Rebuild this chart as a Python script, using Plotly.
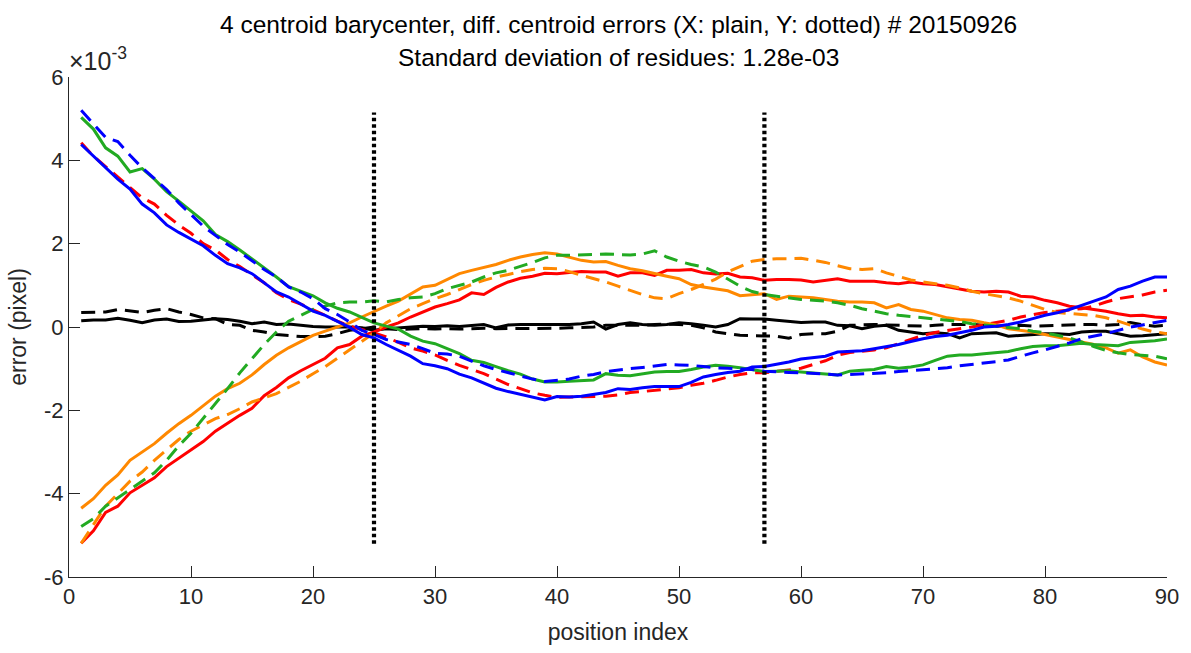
import plotly.graph_objects as go

# position index
x = list(range(1, 91))

# values in units of 1e-3 pixel
black_x = [0.15, 0.17, 0.17, 0.21, 0.16, 0.10, 0.17, 0.19, 0.13, 0.14,
           0.17, 0.20, 0.18, 0.14, 0.08, 0.12, 0.06, 0.07, 0.04, 0.01,
           0.00, 0.00, 0.00, -0.02, -0.08, -0.04, -0.02, 0.00, 0.02, 0.01,
           0.03, 0.01, 0.04, 0.06, -0.02, 0.05, 0.06, 0.06, 0.05, 0.06,
           0.06, 0.08, 0.12, -0.05, 0.06, 0.10, 0.06, 0.04, 0.06, 0.10,
           0.08, 0.04, 0.00, 0.06, 0.20, 0.19, 0.19, 0.16, 0.14, 0.11,
           0.12, 0.12, 0.04, 0.03, -0.04, 0.02, 0.04, -0.08, -0.12, -0.16,
           -0.14, -0.16, -0.26, -0.16, -0.15, -0.14, -0.22, -0.20, -0.18, -0.16,
           -0.16, -0.18, -0.12, -0.10, -0.10, -0.16, -0.22, -0.21, -0.18, -0.16]
black_y = [0.35, 0.36, 0.36, 0.42, 0.38, 0.35, 0.40, 0.44, 0.36, 0.30,
           0.22, 0.20, 0.06, 0.04, -0.08, -0.12, -0.18, -0.20, -0.23, -0.23,
           -0.22, -0.16, -0.08, -0.04, 0.00, -0.04, -0.06, -0.05, -0.04, -0.05,
           -0.04, -0.05, -0.04, -0.03, -0.04, -0.04, -0.03, -0.04, -0.03, -0.03,
           -0.02, -0.01, 0.00, 0.04, 0.04, 0.05, 0.04, 0.06, 0.07, 0.06,
           0.04, -0.02, -0.12, -0.16, -0.20, -0.21, -0.22, -0.22, -0.27, -0.18,
           -0.16, -0.16, -0.10, 0.04, 0.05, 0.06, 0.05, 0.04, 0.04, 0.02,
           0.04, 0.06, 0.06, 0.06, 0.04, 0.02, 0.03, 0.04, 0.02, 0.03,
           0.05, 0.06, 0.06, 0.06, 0.04, 0.06, 0.11, 0.05, 0.02, 0.04]
red_x = [-5.19, -4.89, -4.45, -4.30, -3.98, -3.80, -3.62, -3.35, -3.15, -2.95,
         -2.75, -2.50, -2.30, -2.12, -1.95, -1.65, -1.45, -1.22, -1.05, -0.90,
         -0.75, -0.50, -0.42, -0.22, -0.12, 0.00, 0.10, 0.24, 0.36, 0.48,
         0.56, 0.65, 0.82, 0.78, 0.95, 1.08, 1.17, 1.22, 1.29, 1.28,
         1.31, 1.33, 1.32, 1.32, 1.22, 1.30, 1.30, 1.24, 1.36, 1.36,
         1.38, 1.30, 1.27, 1.29, 1.20, 1.18, 1.12, 1.14, 1.14, 1.13,
         1.08, 1.12, 1.16, 1.10, 1.10, 1.10, 1.06, 1.04, 1.08, 1.04,
         1.02, 0.97, 0.92, 0.86, 0.84, 0.86, 0.84, 0.74, 0.72, 0.64,
         0.58, 0.50, 0.46, 0.42, 0.38, 0.32, 0.27, 0.28, 0.24, 0.22]
red_y = [4.42, 4.10, 3.85, 3.60, 3.33, 3.10, 2.95, 2.68, 2.45, 2.25,
         2.00, 1.85, 1.62, 1.45, 1.25, 1.06, 0.82, 0.66, 0.55, 0.42,
         0.28, 0.14, 0.02, -0.06, -0.14, -0.24, -0.38, -0.50, -0.58, -0.67,
         -0.80, -0.92, -1.02, -1.12, -1.25, -1.38, -1.48, -1.58, -1.64, -1.69,
         -1.68, -1.67, -1.67, -1.66, -1.63, -1.57, -1.55, -1.52, -1.49, -1.46,
         -1.40, -1.35, -1.28, -1.20, -1.14, -1.10, -1.10, -1.07, -1.03, -0.99,
         -0.90, -0.81, -0.68, -0.61, -0.58, -0.55, -0.50, -0.40, -0.31, -0.20,
         -0.13, -0.08, -0.04, 0.00, 0.05, 0.10, 0.16, 0.24, 0.30, 0.35,
         0.38, 0.41, 0.44, 0.50, 0.60, 0.68, 0.72, 0.77, 0.84, 0.88]
orange_x = [-4.35, -4.12, -3.80, -3.55, -3.20, -3.00, -2.80, -2.55, -2.32, -2.12,
            -1.88, -1.66, -1.48, -1.35, -1.15, -0.90, -0.68, -0.50, -0.35, -0.20,
            -0.10, 0.00, 0.10, 0.24, 0.38, 0.50, 0.62, 0.78, 0.96, 1.00,
            1.14, 1.28, 1.36, 1.43, 1.50, 1.60, 1.68, 1.74, 1.78, 1.75,
            1.68, 1.60, 1.56, 1.57, 1.48, 1.40, 1.35, 1.28, 1.22, 1.16,
            1.02, 0.96, 0.92, 0.87, 0.75, 0.77, 0.80, 0.66, 0.74, 0.72,
            0.70, 0.66, 0.62, 0.60, 0.60, 0.58, 0.46, 0.54, 0.42, 0.38,
            0.30, 0.22, 0.18, 0.16, 0.10, 0.05, -0.04, -0.08, -0.12, -0.18,
            -0.24, -0.30, -0.36, -0.42, -0.50, -0.63, -0.55, -0.72, -0.84, -0.91]
orange_y = [-5.19, -4.75, -4.30, -4.00, -3.70, -3.48, -3.20, -2.95, -2.70, -2.50,
            -2.35, -2.20, -2.10, -1.96, -1.80, -1.70, -1.60, -1.45, -1.30, -1.12,
            -0.95, -0.75, -0.55, -0.35, -0.14, 0.10, 0.28, 0.44, 0.56, 0.68,
            0.78, 0.90, 1.02, 1.12, 1.20, 1.26, 1.33, 1.38, 1.41, 1.40,
            1.33, 1.24, 1.16, 1.08, 0.98, 0.88, 0.78, 0.70, 0.68, 0.80,
            0.90, 1.02, 1.15, 1.32, 1.46, 1.58, 1.62, 1.64, 1.64, 1.65,
            1.60, 1.55, 1.47, 1.40, 1.38, 1.40, 1.30, 1.22, 1.13, 1.08,
            1.04, 1.00, 0.94, 0.86, 0.80, 0.75, 0.70, 0.62, 0.52, 0.42,
            0.35, 0.32, 0.30, 0.28, 0.22, 0.14, 0.05, -0.05, -0.12, -0.16]
green_x = [5.03, 4.75, 4.30, 4.10, 3.72, 3.80, 3.55, 3.25, 3.02, 2.78,
           2.55, 2.22, 2.05, 1.85, 1.64, 1.42, 1.20, 0.97, 0.86, 0.75,
           0.58, 0.45, 0.36, 0.22, 0.10, 0.02, -0.05, -0.22, -0.34, -0.40,
           -0.52, -0.64, -0.80, -0.85, -0.95, -1.05, -1.13, -1.25, -1.32, -1.32,
           -1.30, -1.28, -1.27, -1.12, -1.16, -1.17, -1.12, -1.08, -1.07, -1.07,
           -1.02, -0.96, -0.92, -0.94, -0.98, -1.02, -1.07, -1.06, -1.05, -1.08,
           -1.11, -1.13, -1.15, -1.06, -1.04, -1.02, -0.95, -0.99, -0.96, -0.91,
           -0.80, -0.70, -0.67, -0.67, -0.64, -0.62, -0.59, -0.52, -0.47, -0.45,
           -0.45, -0.42, -0.39, -0.42, -0.44, -0.45, -0.37, -0.35, -0.33, -0.29]
green_y = [-4.79, -4.60, -4.30, -4.10, -3.92, -3.70, -3.50, -3.20, -2.85, -2.55,
           -2.20, -1.85, -1.48, -1.10, -0.75, -0.42, -0.12, 0.14, 0.28, 0.42,
           0.50, 0.58, 0.60, 0.60, 0.63, 0.60, 0.66, 0.70, 0.72, 0.80,
           0.92, 1.00, 1.08, 1.20, 1.30, 1.36, 1.45, 1.55, 1.66, 1.72,
           1.72, 1.73, 1.73, 1.75, 1.74, 1.73, 1.75, 1.83, 1.68, 1.58,
           1.50, 1.44, 1.32, 1.16, 0.98, 0.85, 0.78, 0.74, 0.70, 0.66,
           0.64, 0.62, 0.58, 0.52, 0.44, 0.38, 0.32, 0.28, 0.25, 0.21,
           0.18, 0.16, 0.13, 0.08, 0.05, 0.02, 0.00, -0.04, -0.10, -0.14,
           -0.20, -0.26, -0.36, -0.47, -0.56, -0.62, -0.66, -0.68, -0.70, -0.76]
blue_x = [4.38, 4.10, 3.82, 3.55, 3.31, 2.95, 2.74, 2.45, 2.27, 2.10,
          1.95, 1.72, 1.52, 1.42, 1.28, 1.06, 0.84, 0.72, 0.56, 0.38,
          0.28, 0.14, -0.01, -0.18, -0.26, -0.42, -0.56, -0.70, -0.88, -0.93,
          -1.00, -1.13, -1.22, -1.34, -1.47, -1.55, -1.62, -1.68, -1.75, -1.67,
          -1.68, -1.66, -1.62, -1.57, -1.48, -1.50, -1.46, -1.43, -1.43, -1.43,
          -1.33, -1.20, -1.14, -1.09, -1.06, -0.96, -0.95, -0.90, -0.84, -0.77,
          -0.73, -0.70, -0.60, -0.58, -0.57, -0.52, -0.47, -0.42, -0.35, -0.28,
          -0.23, -0.20, -0.14, -0.08, 0.00, 0.02, 0.06, 0.12, 0.20, 0.28,
          0.34, 0.42, 0.52, 0.62, 0.72, 0.90, 0.98, 1.10, 1.20, 1.20]
blue_y = [5.20, 4.88, 4.55, 4.45, 4.12, 3.82, 3.55, 3.30, 2.98, 2.70,
          2.42, 2.20, 1.98, 1.80, 1.58, 1.38, 1.20, 0.96, 0.84, 0.68,
          0.44, 0.30, 0.12, -0.08, -0.18, -0.30, -0.36, -0.42, -0.52, -0.63,
          -0.65, -0.70, -0.82, -0.93, -1.02, -1.10, -1.18, -1.25, -1.31, -1.28,
          -1.25, -1.18, -1.14, -1.07, -1.03, -1.00, -0.97, -0.94, -0.90, -0.91,
          -0.92, -0.95, -0.98, -0.99, -1.00, -1.02, -1.06, -1.08, -1.09, -1.10,
          -1.11, -1.13, -1.15, -1.14, -1.13, -1.12, -1.10, -1.07, -1.05, -1.03,
          -1.01, -0.98, -0.93, -0.90, -0.87, -0.83, -0.79, -0.70, -0.62, -0.55,
          -0.47, -0.38, -0.28, -0.22, -0.16, -0.08, 0.00, 0.05, 0.10, 0.16]

# vertical dotted separators (x position, y extent)
sep_x = [25, 57]
sep_y = [-5.2, 5.15]

y_ticks = [-6, -4, -2, 0, 2, 4, 6]
y_ticktext = ["-6", "-4", "-2", "0", "2", "4", "6"]
x_ticks = [0, 10, 20, 30, 40, 50, 60, 70, 80, 90]

DASH = "14px,8px"
series = [
    (black_x, "#000000", "solid"), (black_y, "#000000", DASH),
    (red_x, "#FF0000", "solid"), (red_y, "#FF0000", DASH),
    (orange_x, "#FF8800", "solid"), (orange_y, "#FF8800", DASH),
    (green_x, "#22AA22", "solid"), (green_y, "#22AA22", DASH),
    (blue_x, "#0000FF", "solid"), (blue_y, "#0000FF", DASH),
]

fig = go.Figure()
for vals, col, dash in series:
    fig.add_trace(go.Scatter(x=x, y=vals, mode="lines",
                             line=dict(color=col, width=3, dash=dash),
                             showlegend=False, hoverinfo="skip"))
for sx in sep_x:
    fig.add_trace(go.Scatter(x=[sx, sx], y=sep_y, mode="lines",
                             line=dict(color="#000000", width=4.2, dash="3.5px,3px"),
                             showlegend=False, hoverinfo="skip"))

axcol = "#262626"
font = "Liberation Sans, Arial, Helvetica, sans-serif"
fig.update_layout(
    width=1191, height=653,
    margin=dict(l=69, r=19, t=77, b=73),
    paper_bgcolor="white", plot_bgcolor="white",
    font=dict(family=font, size=22, color=axcol),
    xaxis=dict(range=[0, 90], tickvals=x_ticks, ticks="inside", ticklen=11,
               tickcolor=axcol, tickwidth=1, showline=True, linecolor=axcol,
               linewidth=1, showgrid=False, zeroline=False, mirror=False,
               tickfont=dict(size=22, color=axcol),
               title=dict(text="position index", font=dict(size=23, color=axcol),
                          standoff=15)),
    yaxis=dict(range=[-6, 6], tickvals=y_ticks, ticktext=y_ticktext,
               ticks="inside", ticklen=11,
               tickcolor=axcol, tickwidth=1, showline=True, linecolor=axcol,
               linewidth=1, showgrid=False, zeroline=False, mirror=False,
               tickfont=dict(size=22, color=axcol),
               title=dict(text="error (pixel)", font=dict(size=23, color=axcol),
                          standoff=10)),
    annotations=[
        dict(text="4 centroid barycenter, diff. centroid errors (X: plain, Y: dotted) # 20150926",
             xref="paper", yref="paper", x=0.5, y=1, xanchor="center", yanchor="middle",
             yshift=53, showarrow=False, font=dict(size=24.5, color="#000000")),
        dict(text="Standard deviation of residues: 1.28e-03",
             xref="paper", yref="paper", x=0.5, y=1, xanchor="center", yanchor="middle",
             yshift=20, showarrow=False, font=dict(size=24.5, color="#000000")),
        dict(text="\u00d710<sup>-3</sup>",
             xref="paper", yref="paper", x=0, y=1, xanchor="left", yanchor="bottom",
             xshift=-2, yshift=0, showarrow=False, font=dict(size=25, color=axcol)),
    ],
)

fig.write_html("out.html")
